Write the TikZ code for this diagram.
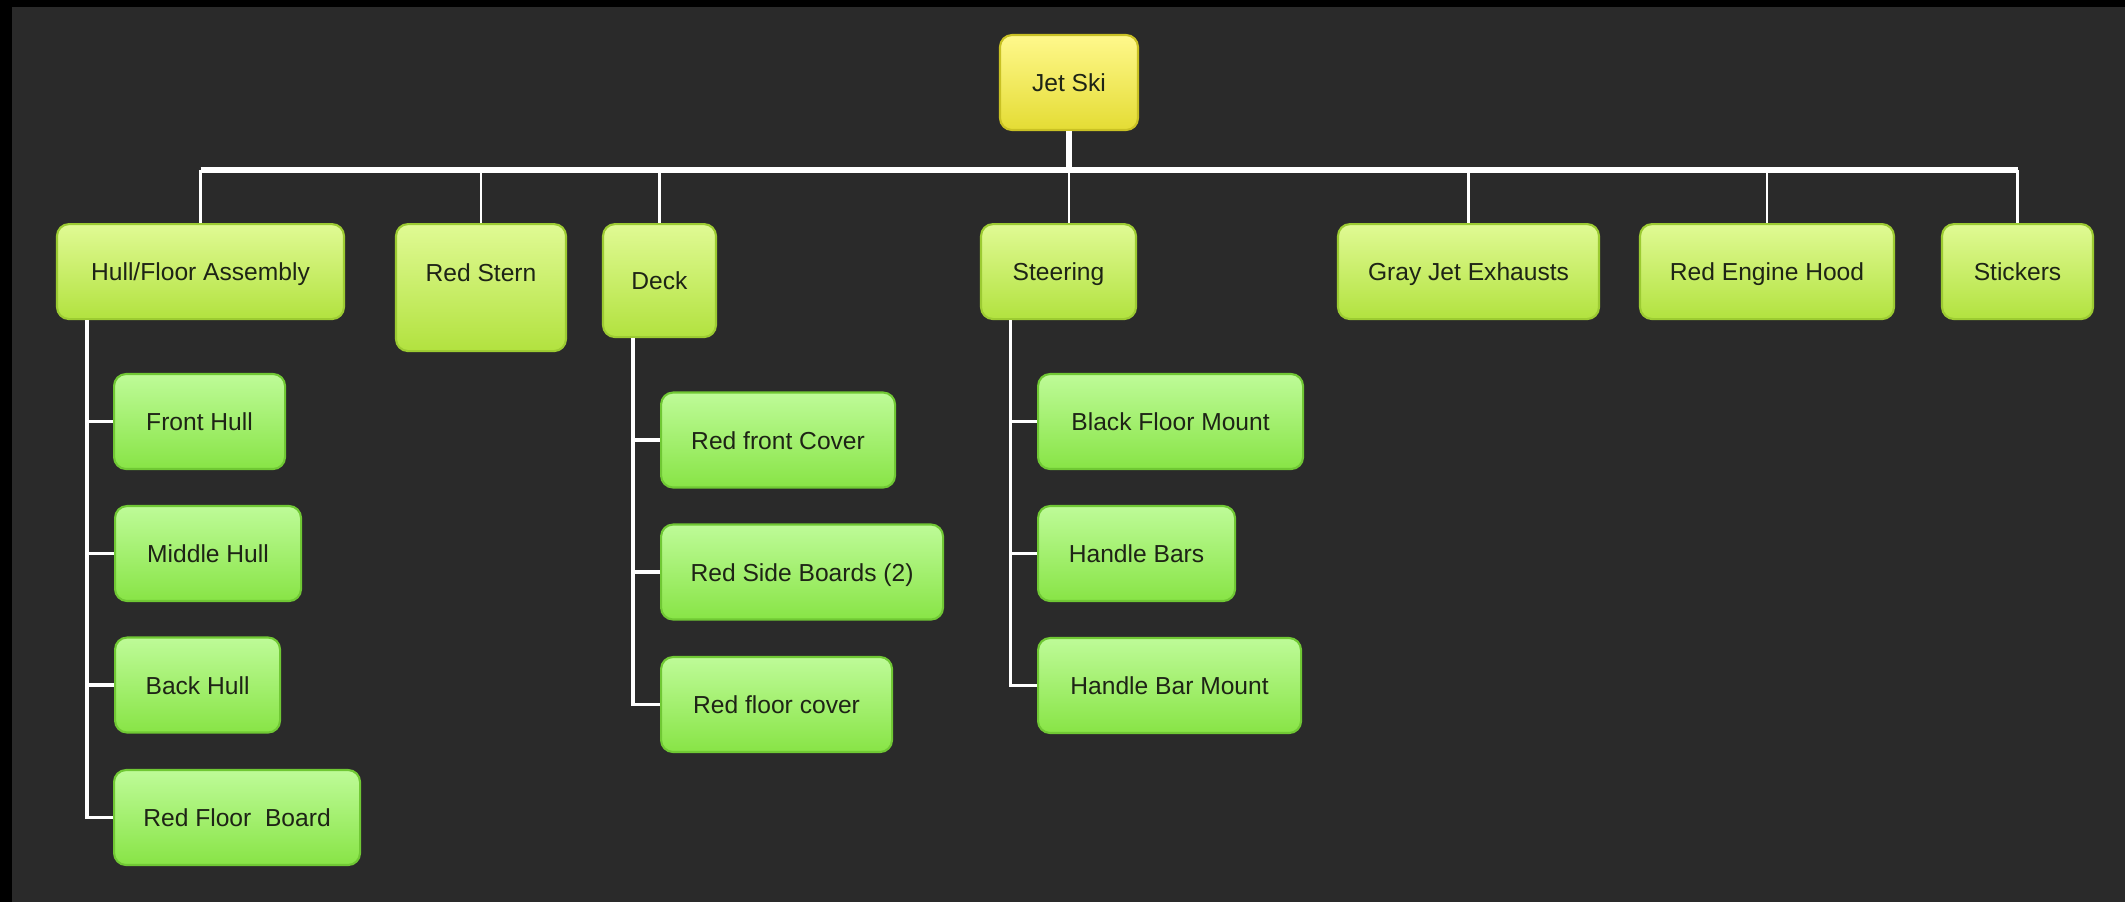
\documentclass[tikz,border=0pt]{standalone}
\usepackage{fontspec}
\setmainfont{Liberation Sans}
\usepackage{xcolor}
\usetikzlibrary{positioning}

\definecolor{board}{HTML}{2A2A2A}
\definecolor{ink}{HTML}{1E2416}
\definecolor{rootTop}{HTML}{FFF88C}
\definecolor{rootMid}{HTML}{F6EE5A}
\definecolor{rootBot}{HTML}{E4DC34}
\definecolor{rootLine}{HTML}{C9C124}
\definecolor{partTop}{HTML}{E0FA94}
\definecolor{partMid}{HTML}{CCF065}
\definecolor{partBot}{HTML}{B2E23F}
\definecolor{partLine}{HTML}{9CCB32}
\definecolor{subTop}{HTML}{BEFB98}
\definecolor{subMid}{HTML}{A4F26C}
\definecolor{subBot}{HTML}{88E446}
\definecolor{subLine}{HTML}{70C834}

\tikzset{
	box/.style={rounded corners=0.12cm, draw, line width=0.6pt, minimum height=0.95cm,
		text height=0.18cm, text depth=0cm, inner xsep=0pt, text=ink,
		font=\fontsize{7pt}{8pt}\selectfont},
	rootbox/.style={box, top color=rootTop, middle color=rootMid, bottom color=rootBot, draw=rootLine},
	partbox/.style={box, top color=partTop, middle color=partMid, bottom color=partBot, draw=partLine, anchor=north},
	subbox/.style={box, top color=subTop, middle color=subMid, bottom color=subBot, draw=subLine, anchor=west},
	trunk/.style={draw=white, line width=1.7pt},
	stub/.style={draw=white!78, line width=0.8pt},
	branch/.style={draw=white!88, line width=0.9pt}
}

\begin{document}
\begin{tikzpicture}
		
		\useasboundingbox (0,0) rectangle (21.25,-9.02);
		\fill[black] (0,0) rectangle (21.25,-9.02);
		\fill[board] (0.12,-0.07) rectangle (21.25,-9.02);
		
		\node[rootbox, minimum width=1.38cm] (jetski) at (10.69,-0.825) {Jet Ski};
		
		\node[partbox, minimum width=2.87cm] (hull) at (2.005,-2.23) {Hull/Floor Assembly};
		
		\node[partbox, minimum width=1.70cm, minimum height=1.27cm, text depth=0.30cm] (stern) at (4.81,-2.23) {Red Stern};
		
		\node[partbox, minimum width=1.13cm, minimum height=1.13cm] (deck) at (6.595,-2.23) {Deck};
		
		\node[partbox, minimum width=1.55cm] (steering) at (10.585,-2.23) {Steering};
		
		\node[partbox, minimum width=2.61cm] (exhausts) at (14.685,-2.23) {Gray Jet Exhausts};
		
		\node[partbox, minimum width=2.54cm] (hood) at (17.67,-2.23) {Red Engine Hood};
		
		\node[partbox, minimum width=1.51cm] (stickers) at (20.175,-2.23) {Stickers};
		
		\node[subbox, minimum width=1.71cm] (fronthull) at (1.13,-4.215) {Front Hull};
		
		\node[subbox, minimum width=1.86cm] (middlehull) at (1.14,-5.535) {Middle Hull};
		
		\node[subbox, minimum width=1.65cm] (backhull) at (1.14,-6.85) {Back Hull};
		
		\node[subbox, minimum width=2.46cm] (floorboard) at (1.13,-8.175) {Red Floor\ \ Board};
		
		\node[subbox, minimum width=2.34cm] (frontcover) at (6.60,-4.40) {Red front Cover};
		
		\node[subbox, minimum width=2.82cm] (sideboards) at (6.60,-5.72) {Red Side Boards (2)};
		
		\node[subbox, minimum width=2.31cm] (floorcover) at (6.60,-7.045) {Red floor cover};
		
		\node[subbox, minimum width=2.65cm] (floormount) at (10.37,-4.215) {Black Floor Mount};
		
		\node[subbox, minimum width=1.97cm] (handlebars) at (10.37,-5.535) {Handle Bars};
		
		\node[subbox, minimum width=2.63cm] (barmount) at (10.37,-6.855) {Handle Bar Mount};
		
		\coordinate[below=0.39cm of jetski] (bus);
		\coordinate (hullrail) at (0.87,0);
		\coordinate (deckrail) at (6.33,0);
		\coordinate (steerrail) at (10.105,0);
		
		\draw[trunk] (jetski) -- (bus);
		\draw[trunk] (hull.north |- bus) -- (stickers.north |- bus);
		\foreach \p in {hull,stern,deck,exhausts,hood,stickers}
			\draw[stub] (\p.north |- bus) -- (\p.north);
		\draw[stub] (bus) -- (bus |- steering.north);
		
		\draw[branch] (hull.south -| hullrail) |- (floorboard.west);
		\foreach \c in {fronthull,middlehull,backhull}
			\draw[branch] (\c.west -| hullrail) -- (\c.west);
		
		\draw[branch] (deck.south -| deckrail) |- (floorcover.west);
		\foreach \c in {frontcover,sideboards}
			\draw[branch] (\c.west -| deckrail) -- (\c.west);
		
		\draw[branch] (steering.south -| steerrail) |- (barmount.west);
		\foreach \c in {floormount,handlebars}
			\draw[branch] (\c.west -| steerrail) -- (\c.west);
		
	\end{tikzpicture}
\end{document}
